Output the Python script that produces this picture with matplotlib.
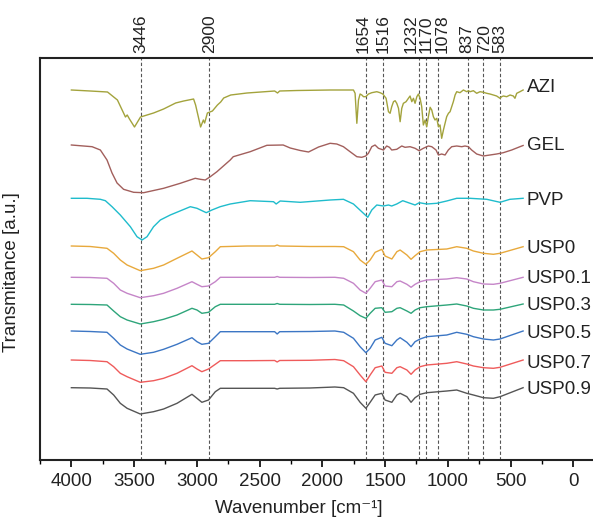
import matplotlib.pyplot as plt
from matplotlib.ticker import MultipleLocator
from matplotlib.transforms import blended_transform_factory

# Values. The y readings are in the plot's own
# arbitrary units (offset stack, larger number = lower on the chart).
azi_wn = [4000, 3850, 3712, 3633, 3569, 3555, 3537, 3497, 3449, 3345, 3265,
          3169, 3105, 3026, 3010, 2988, 2970, 2948, 2938, 2916, 2876, 2836,
          2810, 2786, 2730, 2600, 2380, 2357, 2340, 2200, 1938, 1752, 1739,
          1725, 1712, 1699, 1685, 1672, 1654, 1632, 1606, 1566, 1540, 1518,
          1492, 1473, 1460, 1447, 1433, 1420, 1407, 1393, 1380, 1367, 1354,
          1333, 1314, 1301, 1287, 1274, 1261, 1247, 1234, 1221, 1208, 1195,
          1181, 1168, 1155, 1141, 1128, 1115, 1102, 1088, 1075, 1062, 1049,
          1035, 1022, 1009, 995, 982, 969, 956, 942, 929, 903, 876, 849, 836,
          823, 796, 770, 743, 717, 690, 664, 637, 611, 584, 571, 557, 531,
          504, 478, 465, 451, 425, 400]
azi_t = [90, 91, 92, 100, 117, 115, 119, 127, 117, 113, 109,
         103, 101, 99, 105, 117, 127, 120, 123, 113, 111, 105,
         102, 98, 95, 93, 91, 93, 91, 90.5, 90, 90, 93.3,
         123.3, 100, 94, 95, 96.7, 96.7, 94, 92.7, 91.7, 92.7, 94,
         98.3, 111.7, 113.3, 106.7, 101.7, 100.7, 103.3, 108.3, 121.7, 108.3, 103.3,
         101.7, 98.3, 96, 101.7, 98.3, 103.3, 96.7, 94, 98.3, 106.7, 125,
         120, 126.7, 116.7, 107.3, 110, 116.7, 120, 118.3, 126.7, 125, 138.3,
         130, 123.3, 116.7, 113.3, 111.7, 106.7, 101.7, 95, 91.7, 92.7, 90, 91.7, 90.7,
         91.7, 90.7, 93.3, 91.7, 92.3, 93.3, 94, 95, 96, 98.3, 96.7, 96, 96.7,
         95, 96, 98.3, 93.3, 91.7, 90]

gel_wn = [4000, 3835, 3769, 3716, 3676, 3636, 3584, 3504, 3424, 3265, 3132,
          3013, 2973, 2933, 2893, 2840, 2734, 2710, 2575, 2442, 2312, 2256,
          2176, 2110, 2030, 1938, 1885, 1832, 1779, 1725, 1686, 1654, 1633,
          1606, 1580, 1553, 1513, 1487, 1465, 1447, 1407, 1367, 1341, 1301,
          1261, 1229, 1195, 1155, 1128, 1094, 1075, 1049, 1022, 996, 969, 929,
          889, 863, 836, 810, 770, 717, 664, 611, 558, 491, 425, 400]
gel_t = [145, 146.7, 150, 160, 173, 183, 189.3, 192.3, 192.7, 188.3, 183.3,
         178.3, 179.3, 180, 176.7, 171.7, 160, 156.7, 151.7, 145.3, 145, 148,
         150.5, 152, 147, 143.3, 144, 146.7, 151.7, 156.7, 157.3, 156, 153.3,
         146.7, 145, 148.3, 150, 146, 147.3, 150, 149.3, 146, 147.3, 146.7,
         148.3, 150.7, 148.3, 146, 146.7, 150, 155, 154, 155, 150, 146.7, 146,
         146.7, 146, 146.7, 150, 154, 156, 155, 154, 152.7, 150, 146.7, 145.5]

pvp_wn = [4000, 3875, 3769, 3729, 3676, 3610, 3530, 3477, 3437, 3397, 3345,
          3291, 3212, 3052, 2999, 2925, 2880, 2814, 2734, 2575, 2389, 2368,
          2336, 2176, 1938, 1832, 1752, 1686, 1638, 1606, 1566, 1513, 1473,
          1447, 1407, 1359, 1314, 1261, 1227, 1168, 1088, 1009, 929, 823, 690,
          584, 505, 400]
pvp_t = [198.3, 198.3, 199.3, 200.7, 206.7, 215, 226.7, 236.7, 240, 236.7, 226.7,
         220, 215, 206.7, 208.3, 212.7, 210, 206.7, 204, 200.7, 201.7, 204,
         201, 202.3, 200, 199.3, 204, 211.7, 217.3, 210, 205, 206, 205,
         206, 204, 200.7, 202.7, 205, 202.7, 204, 203.3, 201, 198.3, 198.3, 199.3,
         202.3, 199.3, 198.3]

usp_wn = [4000, 3850, 3716, 3663, 3610, 3556, 3451, 3345, 3265, 3158, 3039,
          2999, 2960, 2907, 2853, 2813, 2600, 2380, 2360, 2340, 2100, 1900,
          1830, 1752, 1699, 1653, 1619, 1579, 1526, 1500, 1446, 1406, 1380,
          1326, 1293, 1261, 1221, 1168, 1008, 929, 849, 796, 716, 637, 584, 400]
usp0_t = [246, 246.5, 248.3, 253.3, 260, 265, 270.7, 268.3, 265, 258.3, 251,
          255, 259, 257.7, 251.7, 246.7, 246, 246, 245, 246, 246.5, 246.5,
          246.7, 251.7, 260, 264.3, 260, 252.3, 249.3, 256, 259, 251.7, 250,
          255, 259.3, 255.7, 251.7, 250, 249, 246.7, 248.3, 251, 253.3, 254.3, 253.3, 246.7]
usp01_t = [277.3, 277.5, 278.3, 283.3, 290, 293.3, 297.7, 295.7, 293.3, 288.3, 281.7,
           284.3, 286.7, 286, 281.7, 277.3, 277.3, 277.3, 276.5, 277.3, 277.5, 277.3,
           278.3, 283.3, 290, 293.3, 288.3, 281.7, 280, 286, 286.7, 281.7, 281,
           284.3, 287.3, 284.3, 281.7, 280, 279, 277.7, 279, 281.7, 284, 284.3, 283.3, 277.3]
usp03_t = [304.3, 304.5, 305, 311, 316.7, 320, 324, 321.7, 319.3, 315, 308.3,
           310, 313.3, 312.3, 306.7, 304.3, 304.3, 304.3, 303.5, 304.3, 304.5, 304.3,
           305, 311, 315.7, 318.3, 313.3, 308.3, 307.7, 312.3, 311.7, 308.3, 307.7,
           311, 313.3, 310, 307.7, 306.7, 305, 304, 306, 308.3, 310, 310, 309.3, 304]
usp05_t = [331, 331.5, 332.3, 338.3, 345, 349, 354.3, 352.3, 349.3, 344.3, 337.7,
           341.7, 344.3, 343.3, 336.7, 331.7, 331.7, 331.7, 334, 331.7, 331.5, 331,
           332.3, 338.3, 346.7, 352.7, 348.3, 340, 337.3, 343.3, 345.7, 340, 337.7,
           342.3, 346.7, 341.7, 339, 336.7, 335, 332.3, 334.3, 336.7, 339, 340, 339, 331]
usp07_t = [360, 360.5, 361.7, 366.7, 373.3, 376.7, 382.3, 380.7, 378.3, 373.3, 365.7,
           369, 371.7, 369, 364.3, 360.7, 360.7, 360.5, 362, 360.5, 360.3, 359.5,
           360.7, 366.7, 375, 381.7, 375, 367.7, 366, 372.3, 373.3, 367.7, 366.7,
           370, 374.3, 370, 366.7, 365, 363.3, 361.7, 364, 366, 367.7, 368.3, 367.3, 360]
usp09_t = [387.7, 388, 389, 395, 403.3, 408.3, 414, 411.7, 409, 403.3, 394.3,
           398.3, 402.3, 400, 391.7, 388.3, 388.3, 388.3, 389, 388.3, 388, 387,
           387.7, 393.3, 402.3, 408.3, 402.3, 395, 393.3, 400, 402.3, 395, 393.3,
           396.7, 402.3, 397.7, 394.3, 392.7, 391, 390, 393.3, 395, 397.7, 398.3, 396.7, 387.7]

series_names = ["AZI", "GEL", "PVP", "USP0", "USP0.1", "USP0.3", "USP0.5", "USP0.7", "USP0.9"]
peak_wn = [3446, 2900, 1654, 1516, 1232, 1170, 1078, 837, 720, 583]


def main() -> None:
    plt.rcParams["font.family"] = ["Liberation Sans", "DejaVu Sans"]

    spectra = [
        (azi_wn, azi_t, "#a3a33c"),
        (gel_wn, gel_t, "#a25f5c"),
        (pvp_wn, pvp_t, "#1fbccc"),
        (usp_wn, usp0_t, "#e8a93c"),
        (usp_wn, usp01_t, "#c585c8"),
        (usp_wn, usp03_t, "#2ea57a"),
        (usp_wn, usp05_t, "#3c76c4"),
        (usp_wn, usp07_t, "#ef5b5b"),
        (usp_wn, usp09_t, "#555555"),
    ]
    # where the names sit next to the spectra ends
    name_y = [88, 145, 200, 248, 278, 305, 333, 363, 389]
    # peak labels nudged apart where they would collide
    peak_label_x = {1654: 1678, 1232: 1295, 1078: 1042, 837: 852, 720: 710}
    fs = 13.5

    fig = plt.figure(figsize=(5.93, 5.20), dpi=100)
    ax = fig.add_axes([40 / 593, 60 / 520, 553 / 593, 402 / 520])

    for wn in peak_wn:
        ax.axvline(wn, color="#555555", linestyle=(0, (3, 2)), linewidth=0.8, zorder=1)

    for (wn, t, color), name, y in zip(spectra, series_names, name_y):
        ax.plot(wn, t, color=color, linewidth=1.0, zorder=2)
        ax.text(370, y, name, ha="left", va="center", fontsize=fs, color="#222222")

    trans = blended_transform_factory(ax.transData, ax.transAxes)
    for wn in peak_wn:
        ax.text(peak_label_x.get(wn, wn), 1.013, str(wn), transform=trans,
                rotation=90, ha="center", va="bottom", fontsize=12.5, color="#222222")

    ax.set_xlim(4250, -157)
    ax.set_ylim(460, 58)
    ax.set_yticks([])
    ax.xaxis.set_major_locator(MultipleLocator(500))
    ax.xaxis.set_minor_locator(MultipleLocator(250))
    ax.tick_params(axis="x", which="major", direction="out", length=5, width=1.2,
                   labelsize=fs, labelcolor="#222222", pad=4)
    ax.tick_params(axis="x", which="minor", direction="out", length=3, width=1.0)
    ax.spines["right"].set_visible(False)
    for side in ["left", "top", "bottom"]:
        ax.spines[side].set_linewidth(1.5)
        ax.spines[side].set_color("#222222")

    ax.set_xlabel("Wavenumber [cm\u207b\u00b9]", fontsize=fs, color="#222222")
    ax.xaxis.set_label_coords(0.468, -0.1)
    ax.set_ylabel("Transmitance [a.u.]", fontsize=fs, color="#222222")
    ax.yaxis.set_label_coords(-0.036, 0.468)

    fig.savefig("out.png", dpi=100)


if __name__ == "__main__":
    main()
